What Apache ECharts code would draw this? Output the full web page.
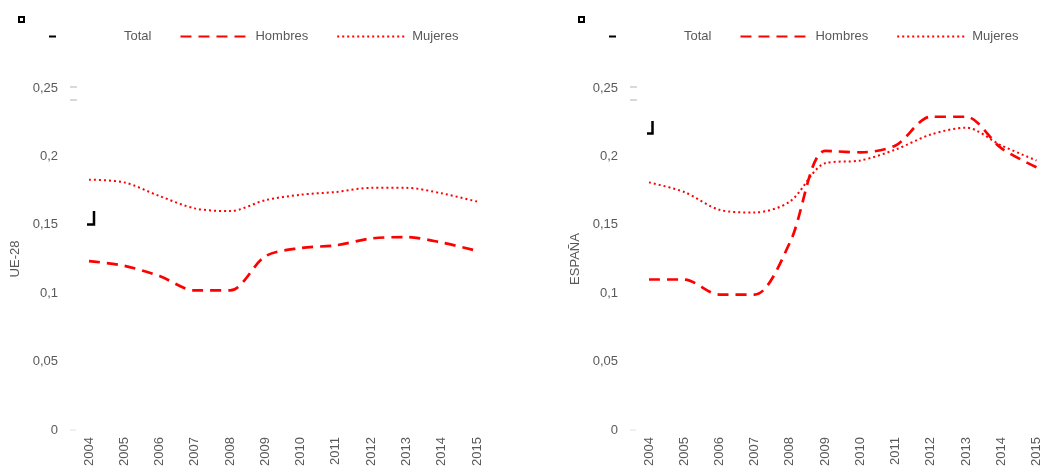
<!DOCTYPE html>
<html>
<head>
<meta charset="utf-8">
<script src="https://cdn.jsdelivr.net/npm/echarts@6/dist/echarts.min.js"></script>
<style>html,body{margin:0;padding:0;background:#fff}#c{width:1043px;height:469px}</style>
</head>
<body>
<div id="c"></div>
<script>
var years = ['2004','2005','2006','2007','2008','2009','2010','2011','2012','2013','2014','2015'];
var yTicks = [0, 0.05, 0.1, 0.15, 0.2, 0.25];
var panelNames = ['UE-28', 'ESPAÑA'];
var seriesNames = ['Total', 'Hombres', 'Mujeres'];
var ueHombres = [0.1235, 0.120, 0.1125, 0.102, 0.102, 0.127, 0.133, 0.135, 0.140, 0.141, 0.137, 0.131];
var ueMujeres = [0.183, 0.181, 0.171, 0.162, 0.160, 0.168, 0.172, 0.174, 0.177, 0.177, 0.173, 0.167];
var esHombres = [0.110, 0.110, 0.099, 0.099, 0.137, 0.204, 0.203, 0.208, 0.229, 0.229, 0.206, 0.192];
var esMujeres = [0.181, 0.174, 0.161, 0.159, 0.167, 0.195, 0.197, 0.205, 0.216, 0.221, 0.208, 0.197];

var chart = echarts.init(document.getElementById('c'), null, {renderer: 'canvas'});
var FONT = 'Liberation Sans, Arial, sans-serif';
var GRAY = '#595959';
var FS = 13;
var grids = [
  {left: 89, top: 88, width: 388, bottom: 39},
  {left: 649, top: 88, width: 388, bottom: 39}
];
function xAxis(i) {
  return {
    type: 'category', gridIndex: i, data: years, boundaryGap: false,
    axisLine: {show: false}, axisTick: {show: false}, splitLine: {show: false},
    axisLabel: {rotate: 90, color: GRAY, fontSize: FS, fontFamily: FONT, margin: 7}
  };
}
function yAxis(i) {
  return {
    type: 'value', gridIndex: i, min: yTicks[0], max: yTicks[yTicks.length - 1], interval: 0.05,
    name: panelNames[i], nameLocation: 'middle', nameGap: 67,
    nameTextStyle: {color: GRAY, fontSize: FS, fontFamily: FONT},
    axisLine: {show: false}, axisTick: {show: false}, splitLine: {show: false},
    axisLabel: {color: GRAY, fontSize: FS, fontFamily: FONT, margin: 31,
      formatter: function (v) { return String(+v.toFixed(2)).replace('.', ','); }}
  };
}
function lines(i, h, m) {
  return [
    {name: 'Total', type: 'line', xAxisIndex: i, yAxisIndex: i, data: [], symbol: 'none',
     itemStyle: {color: '#000'}, lineStyle: {color: '#000', width: 3, type: [7, 300]}},
    {name: 'Hombres', type: 'line', xAxisIndex: i, yAxisIndex: i, data: h, symbol: 'none', smooth: 0.3,
     itemStyle: {color: '#ff0000'}, lineStyle: {color: '#ff0000', width: 2.7, type: [11, 7]}},
    {name: 'Mujeres', type: 'line', xAxisIndex: i, yAxisIndex: i, data: m, symbol: 'none', smooth: 0.3,
     itemStyle: {color: '#ff0000'}, lineStyle: {color: '#ff0000', width: 2, type: [2, 3]}}
  ];
}
function legend(left) {
  return {left: left, top: 25, data: seriesNames, itemWidth: 70, itemHeight: 14, itemGap: 28,
    selectedMode: false, itemStyle: {opacity: 0},
    textStyle: {color: GRAY, fontSize: FS, fontFamily: FONT}};
}
function deco(dx) {
  return [
    {type: 'rect', shape: {x: 19 + dx, y: 17, width: 5, height: 5}, style: {fill: 'none', stroke: '#000', lineWidth: 2}},
    {type: 'line', shape: {x1: 70 + dx, y1: 87, x2: 77 + dx, y2: 87}, style: {stroke: '#d9d9d9', lineWidth: 2}},
    {type: 'line', shape: {x1: 70 + dx, y1: 100, x2: 77 + dx, y2: 100}, style: {stroke: '#d9d9d9', lineWidth: 2}},
    {type: 'line', shape: {x1: 70 + dx, y1: 430, x2: 76 + dx, y2: 430}, style: {stroke: '#e0e0e0', lineWidth: 1}}
  ];
}
var graphics = deco(0).concat(deco(560)).concat([
  {type: 'polyline', shape: {points: [[94, 211], [94, 224.5], [87, 224.5]]}, style: {fill: 'none', stroke: '#000', lineWidth: 2.5}},
  {type: 'polyline', shape: {points: [[652.5, 121], [652.5, 133.5], [647, 133.5]]}, style: {fill: 'none', stroke: '#000', lineWidth: 2.5}}
]);
chart.setOption({
  animation: false,
  backgroundColor: '#fff',
  grid: grids,
  legend: [legend(43), legend(603)],
  xAxis: [xAxis(0), xAxis(1)],
  yAxis: [yAxis(0), yAxis(1)],
  series: lines(0, ueHombres, ueMujeres).concat(lines(1, esHombres, esMujeres)),
  graphic: graphics
});
</script>
</body>
</html>
